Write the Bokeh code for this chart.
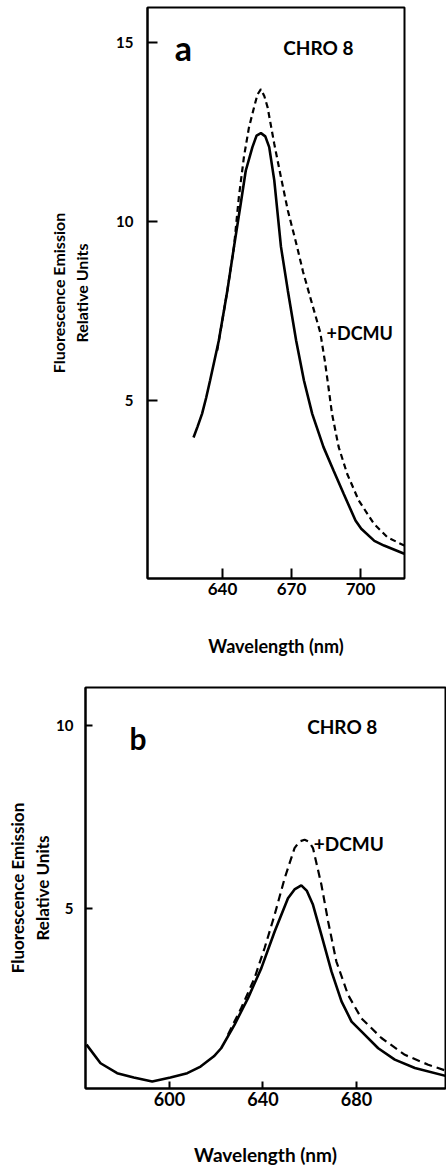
import math
from bokeh.plotting import figure
from bokeh.models import FixedTicker, Label, Range1d
from bokeh.embed import file_html
from bokeh.resources import INLINE

# ---------------- data: panel a ----------------
a_solid_wl = [627.4, 629.2, 631.1, 632.9, 634.6, 638.4, 642.1, 645.0, 647.9, 650.1,
              653.0, 654.8, 656.7, 658.6, 660.3, 662.5, 665.4, 668.4, 672.0, 675.4,
              679.0, 683.9, 688.3, 692.7, 697.8, 700.3, 706.0, 710.2, 719.0]
a_solid_val = [3.97, 4.28, 4.63, 5.08, 5.56, 6.68, 8.07, 9.3, 10.49, 11.42,
               12.08, 12.4, 12.47, 12.38, 12.08, 11.15, 9.3, 8.07, 6.68, 5.56,
               4.63, 3.70, 3.04, 2.39, 1.65, 1.42, 1.08, 0.95, 0.72]
a_dcmu_wl = [637.7, 642.1, 645.0, 647.1, 649.3, 651.5, 653.7, 655.2, 656.7, 658.2,
             659.6, 662.5, 665.4, 668.4, 672.4, 675.0, 678.5, 682.5, 684.5, 686.0,
             687.6, 690.5, 694.2, 699.2, 705.8, 711.7, 719.0]
a_dcmu_val = [6.4, 8.07, 9.3, 10.68, 11.8, 12.63, 13.19, 13.55, 13.7, 13.5,
              13.19, 12.17, 11.24, 10.31, 9.3, 8.6, 7.8, 6.9, 6.1, 5.4,
              4.63, 3.70, 2.95, 2.21, 1.56, 1.18, 0.95]
a_xticks = [640, 670, 700]
a_yticks = [5, 10, 15]

# ---------------- data: panel b ----------------
b_solid_wl = [564.5, 570.5, 577.6, 584.7, 592.6, 600.4, 607.6, 613.3, 619.0, 622.1,
              627.8, 633.6, 639.3, 645.0, 650.7, 653.5, 656.4, 658.8, 661.4, 665.0,
              669.3, 673.6, 677.9, 682.1, 689.3, 696.4, 705.0, 719.0]
b_solid_val = [1.28, 0.77, 0.50, 0.38, 0.27, 0.38, 0.50, 0.68, 0.96, 1.18,
               1.82, 2.55, 3.37, 4.37, 5.28, 5.52, 5.63, 5.48, 5.10, 4.28,
               3.28, 2.46, 1.91, 1.64, 1.18, 0.87, 0.64, 0.41]
b_dcmu_wl = [625.0, 630.7, 636.4, 640.7, 645.0, 649.3, 653.5, 655.6, 657.8, 659.8,
             661.4, 665.0, 667.9, 671.4, 676.4, 682.1, 690.7, 700.7, 710.7, 719.0]
b_dcmu_val = [1.55, 2.28, 3.10, 3.92, 4.83, 5.83, 6.65, 6.83, 6.88, 6.82,
              6.65, 5.65, 4.64, 3.55, 2.64, 2.0, 1.46, 1.0, 0.73, 0.55]
b_xticks = [600, 640, 680]
b_yticks = [5, 10]

FONT = "Lato"
YLABEL = "Fluorescence Emission\nRelative Units"
XLABEL = "Wavelength (nm)"


def style(p, tick_in, xfs, yfs, xstand, ystand):
    p.xgrid.visible = False
    p.ygrid.visible = False
    p.outline_line_color = "black"
    p.outline_line_width = 2
    p.background_fill_color = "white"
    p.border_fill_color = "white"
    for ax in (p.xaxis[0], p.yaxis[0]):
        ax.axis_line_color = "black"
        ax.axis_line_width = 2
        ax.major_tick_in = tick_in
        ax.major_tick_out = 0
        ax.major_tick_line_width = 2
        ax.minor_tick_in = 0
        ax.minor_tick_out = 0
        ax.major_label_text_font = FONT
        ax.major_label_text_font_style = "bold"
        ax.major_label_text_color = "black"
        ax.axis_label_text_font = FONT
        ax.axis_label_text_font_style = "bold"
        ax.axis_label_text_color = "black"
    p.xaxis[0].major_label_text_font_size = xfs
    p.yaxis[0].major_label_text_font_size = yfs
    p.xaxis[0].major_label_standoff = xstand
    p.yaxis[0].major_label_standoff = ystand


def lab(p, x, y, text, size, align="left"):
    p.add_layout(Label(x=x, y=y, text=text, text_font=FONT, text_font_style="bold",
                       text_font_size=size, text_align=align, text_baseline="alphabetic",
                       text_color="black"))


# ---------------- panel a ----------------
p1 = figure(width=446, height=680, output_backend="svg", toolbar_location=None,
            x_range=Range1d(607.4, 719.1), y_range=Range1d(0.03, 15.98),
            min_border_left=147, min_border_right=42, min_border_top=7,
            min_border_bottom=102)
p1.title.visible = False
style(p1, 10, "17px", "15px", 4, 14)
p1.xaxis[0].ticker = FixedTicker(ticks=a_xticks, minor_ticks=[])
p1.yaxis[0].ticker = FixedTicker(ticks=a_yticks, minor_ticks=[])
p1.xaxis[0].axis_label = XLABEL
p1.xaxis[0].axis_label_text_font_size = "18px"
p1.xaxis[0].axis_label_standoff = 37
p1.yaxis[0].axis_label = YLABEL
p1.yaxis[0].axis_label_text_font_size = "16px"
p1.yaxis[0].axis_label_standoff = 22

p1.line(a_solid_wl, a_solid_val, line_color="black", line_width=2.6)
p1.line(a_dcmu_wl, a_dcmu_val, line_color="black", line_width=2.2, line_dash="6 4")

lab(p1, 623.0, 14.86, "a", "34px", align="center")
lab(p1, 666.4, 14.87, "CHRO 8", "19px")
lab(p1, 685.2, 6.89, "+DCMU", "18px")

# ---------------- panel b ----------------
p2 = figure(width=446, height=489, output_backend="svg", toolbar_location=None,
            x_range=Range1d(564.06, 718.1), y_range=Range1d(0.08, 11.04),
            min_border_left=85, min_border_right=1, min_border_top=7,
            min_border_bottom=81)
p2.title.visible = False
style(p2, 7, "18px", "15px", 3, 12)
p2.xaxis[0].ticker = FixedTicker(ticks=b_xticks, minor_ticks=[])
p2.yaxis[0].ticker = FixedTicker(ticks=b_yticks, minor_ticks=[])
p2.xaxis[0].axis_label = XLABEL
p2.xaxis[0].axis_label_text_font_size = "19px"
p2.xaxis[0].axis_label_standoff = 34
p2.yaxis[0].axis_label = YLABEL
p2.yaxis[0].axis_label_text_font_size = "17px"
p2.yaxis[0].axis_label_standoff = 0

p2.line(b_solid_wl, b_solid_val, line_color="black", line_width=2.6)
p2.line(b_dcmu_wl, b_dcmu_val, line_color="black", line_width=2.2, line_dash="8 5")

lab(p2, 586.5, 9.65, "b", "30px", align="center")
lab(p2, 658.9, 9.97, "CHRO 8", "19px")
lab(p2, 661.7, 6.78, "+DCMU", "19px")

open("out.html", "w").write(file_html([p1, p2], INLINE))
